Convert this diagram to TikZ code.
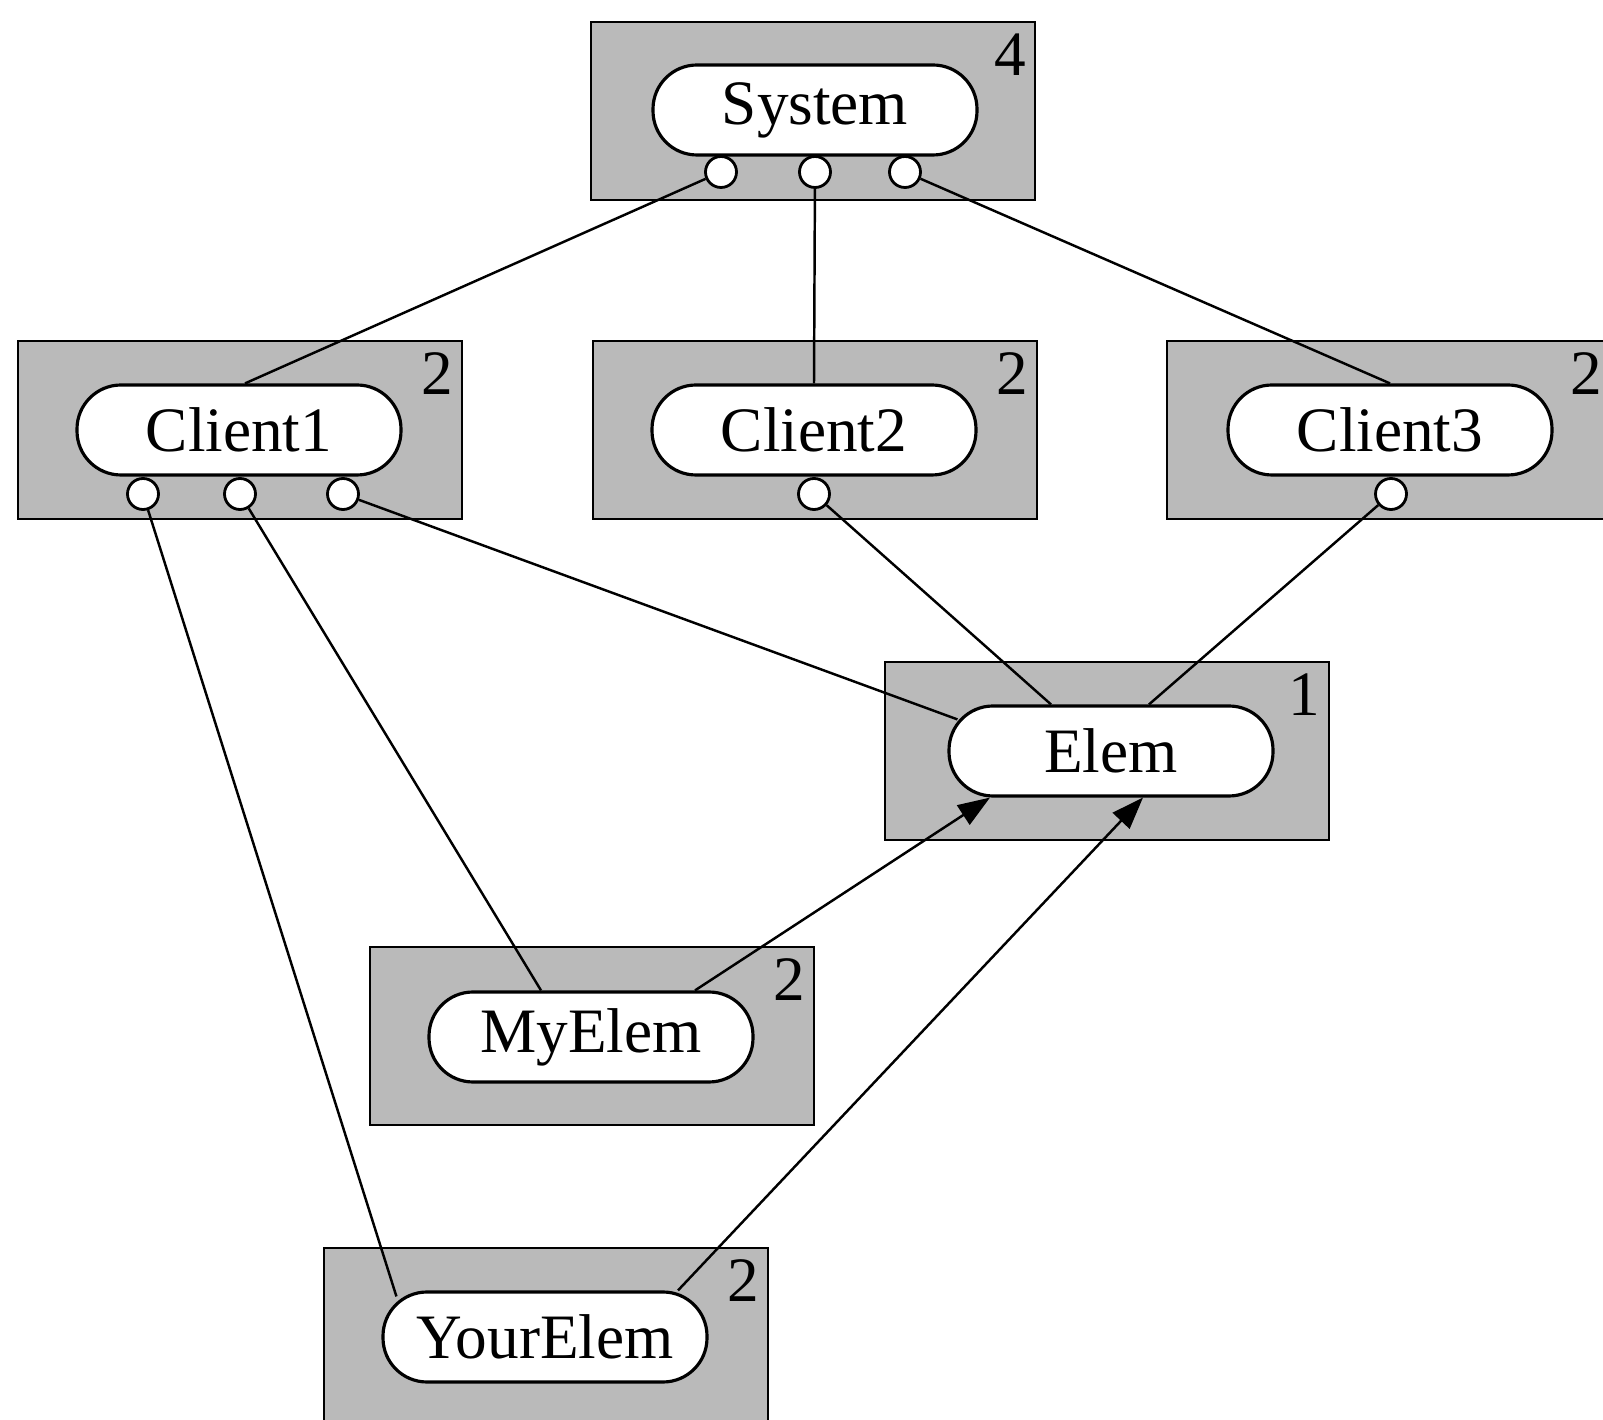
\documentclass[tikz,border=0pt]{standalone}
\usepackage{fontspec}
\setmainfont{Liberation Serif}
\usepackage{tikz}
\usetikzlibrary{arrows.meta,positioning,backgrounds}

\begin{document}
\begin{tikzpicture}[
  x=0.1mm, y=-0.1mm,
  >={Triangle[length=3.2mm, width=2.3mm]},
  box/.style={draw=black, line width=0.5pt, fill=black!27,
              minimum width=44.4mm, minimum height=17.8mm, inner sep=0pt},
  pill/.style={draw=black, line width=0.9pt, fill=white,
               rounded corners=4.4mm, minimum width=32.4mm,
               minimum height=9mm, inner sep=0pt,
               font=\fontsize{18}{21}\selectfont},
  port/.style={circle, draw=black, fill=white, line width=0.8pt,
               inner sep=0pt, minimum size=3.1mm},
  num/.style={font=\fontsize{18}{21}\selectfont, anchor=north east,
              inner xsep=0.9mm, inner ysep=1.2mm},
  link/.style={line width=0.7pt, draw=black},
  inherit/.style={->, line width=0.7pt, draw=black}
]
\path[use as bounding box] (0,0) rectangle (1603,1420);
\clip (0,0) rectangle (1603,1420);

% ==================== Classes ====================
\node[pill] (sys)      at ( 815, 110) {System};
\node[pill] (cl1)      at ( 239, 430) {Client1};
\node[pill] (cl2)      at ( 814, 430) {Client2};
\node[pill] (cl3)      at (1390, 430) {Client3};
\node[pill] (elem)     at (1111, 751) {Elem};
\node[pill] (myelem)   at ( 591,1037) {MyElem};
\node[pill] (yourelem) at ( 545,1337) {YourElem};

% ==================== Shaded frames ==============
\begin{scope}[on background layer]
  \node[box] (sysbox)      at ( 813, 111) {};
  \node[box] (cl1box)      at ( 240, 430) {};
  \node[box] (cl2box)      at ( 815, 430) {};
  \node[box] (cl3box)      at (1389, 430) {};
  \node[box] (elembox)     at (1107, 751) {};
  \node[box] (myelembox)   at ( 592,1036) {};
  \node[box] (yourelembox) at ( 546,1337) {};
\end{scope}

\node[num] at (sysbox.north east)      {4};
\node[num] at (cl1box.north east)      {2};
\node[num] at (cl2box.north east)      {2};
\node[num] at (cl3box.north east)      {2};
\node[num] at (elembox.north east)     {1};
\node[num] at (myelembox.north east)   {2};
\node[num] at (yourelembox.north east) {2};

% ==================== Ports ======================
\node[port] (sysp1) at ( 721, 172) {};
\node[port] (sysp2) at ( 815, 172) {};
\node[port] (sysp3) at ( 905, 172) {};
\node[port] (cl1p1) at ( 143, 494) {};
\node[port] (cl1p2) at ( 240, 494) {};
\node[port] (cl1p3) at ( 343, 494) {};
\node[port] (cl2p1) at ( 814, 494) {};
\node[port] (cl3p1) at (1391, 494) {};

% ==================== Uses =======================
\draw[link] (sysp1) -- ([xshift=0.6mm]cl1.north);
\draw[link] (sysp2) -- (cl2.north);
\draw[link] (sysp3) -- (cl3.north);

\draw[link] (cl1p1) -- ([xshift=1.5mm, yshift=-0.6mm]yourelem.north west);
\draw[link] (cl1p2) -- ([xshift=-5mm]myelem.north);
\draw[link] (cl1p3) -- ([xshift=1mm, yshift=-1.5mm]elem.north west);
\draw[link] (cl2p1) -- ([xshift=-6mm]elem.north);
\draw[link] (cl3p1) -- ([xshift=3.8mm]elem.north);

% ==================== Inheritance ================
\draw[inherit] ([xshift=10.4mm]myelem.north) -- ([xshift=-12.1mm]elem.south);
\draw[inherit] ([xshift=13.3mm]yourelem.north) -- ([xshift=3.2mm]elem.south);

\end{tikzpicture}
\end{document}
